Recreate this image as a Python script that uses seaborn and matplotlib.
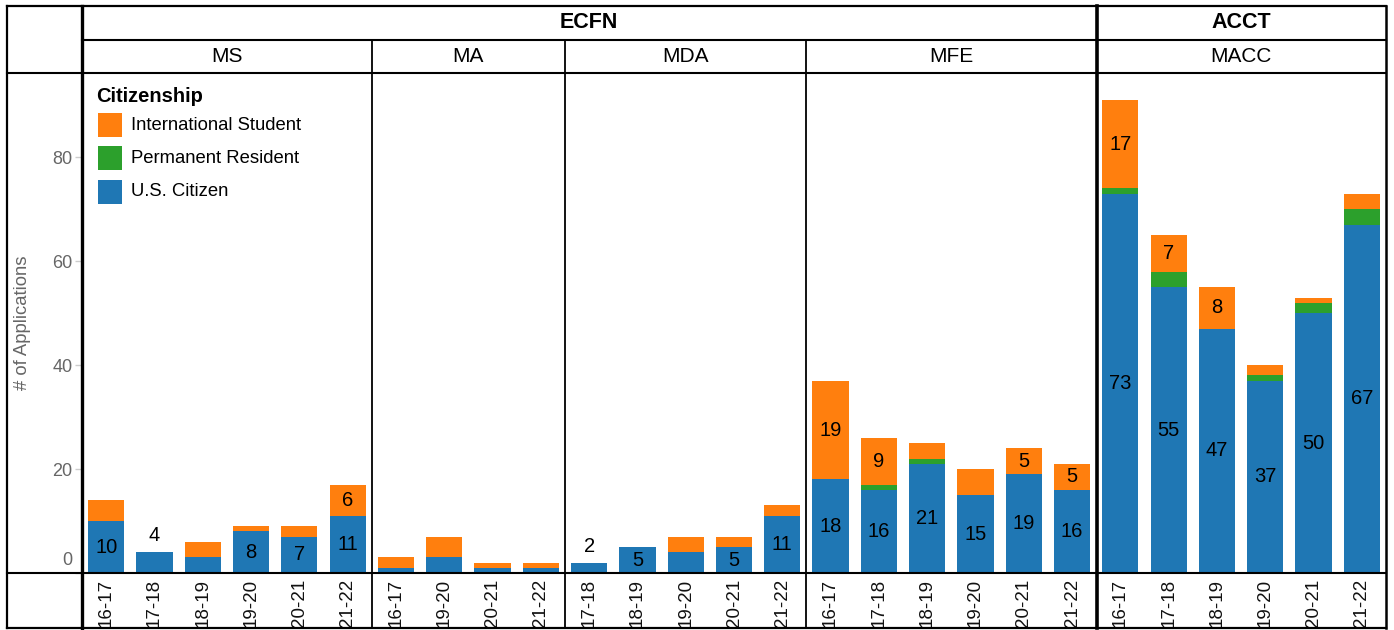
import matplotlib
matplotlib.use('Agg')
import matplotlib.pyplot as plt
import seaborn as sns
import pandas as pd
import numpy as np
from matplotlib.lines import Line2D
from matplotlib.patches import Rectangle
import matplotlib.transforms as mtransforms

# ---------------- data ----------------
departments = ['ECFN', 'ECFN', 'ECFN', 'ECFN', 'ACCT']
programs = ['MS', 'MA', 'MDA', 'MFE', 'MACC']
years = {
    'MS':   ['16-17', '17-18', '18-19', '19-20', '20-21', '21-22'],
    'MA':   ['16-17', '19-20', '20-21', '21-22'],
    'MDA':  ['17-18', '18-19', '19-20', '20-21', '21-22'],
    'MFE':  ['16-17', '17-18', '18-19', '19-20', '20-21', '21-22'],
    'MACC': ['16-17', '17-18', '18-19', '19-20', '20-21', '21-22'],
}
us_citizen = {
    'MS':   [10, 4, 3, 8, 7, 11],
    'MA':   [1, 3, 1, 1],
    'MDA':  [2, 5, 4, 5, 11],
    'MFE':  [18, 16, 21, 15, 19, 16],
    'MACC': [73, 55, 47, 37, 50, 67],
}
permanent_resident = {
    'MS':   [0, 0, 0, 0, 0, 0],
    'MA':   [0, 0, 0, 0],
    'MDA':  [0, 0, 0, 0, 0],
    'MFE':  [0, 1, 1, 0, 0, 0],
    'MACC': [1, 3, 0, 1, 2, 3],
}
international = {
    'MS':   [4, 0, 3, 1, 2, 6],
    'MA':   [2, 4, 1, 1],
    'MDA':  [0, 0, 3, 2, 2],
    'MFE':  [19, 9, 3, 5, 5, 5],
    'MACC': [17, 7, 8, 2, 1, 3],
}
# which segment values carry a text mark (indices into years)
us_labels_shown = {'MS': [0, 1, 3, 4, 5], 'MA': [], 'MDA': [0, 1, 3, 4],
                   'MFE': [0, 1, 2, 3, 4, 5], 'MACC': [0, 1, 2, 3, 4, 5]}
intl_labels_shown = {'MS': [5], 'MA': [], 'MDA': [],
                     'MFE': [0, 1, 4, 5], 'MACC': [0, 1, 2]}
legend_title = 'Citizenship'
series_names = ['International Student', 'Permanent Resident', 'U.S. Citizen']
y_ticks = [0, 20, 40, 60, 80]
y_title = '# of Applications'

colors = {'International Student': '#ff7f0e', 'Permanent Resident': '#2ca02c',
          'U.S. Citizen': '#1f77b4'}

# ---------------- style ----------------
sns.set_style('white')
plt.rcParams['font.family'] = ['Liberation Sans', 'DejaVu Sans']

W, H = 1394, 630
fig = plt.figure(figsize=(W / 100, H / 100), dpi=100)

def fx(px):
    return px / W

def fy(py):
    return 1 - py / H

LBL = 14.5
left_px, right_px, top_px, bot_px = 82, 1386, 73, 573
gs = fig.add_gridspec(1, len(programs), left=fx(left_px), right=fx(right_px),
                      top=fy(top_px), bottom=fy(bot_px), wspace=0,
                      width_ratios=[len(years[p]) for p in programs])
axes = [fig.add_subplot(gs[0, i]) for i in range(len(programs))]

YMAX = 96.2
for i, (ax, prog) in enumerate(zip(axes, programs)):
    df = pd.DataFrame({
        'Year': years[prog],
        'us': us_citizen[prog],
        'pr': permanent_resident[prog],
        'intl': international[prog],
    })
    df['us_pr'] = df['us'] + df['pr']
    df['total'] = df['us_pr'] + df['intl']
    order = years[prog]
    for col, name in [('total', 'International Student'),
                      ('us_pr', 'Permanent Resident'),
                      ('us', 'U.S. Citizen')]:
        sns.barplot(data=df, x='Year', y=col, order=order, color=colors[name],
                    saturation=1, width=0.75, errorbar=None, linewidth=0,
                    ax=ax)
    ax.set_xlim(-0.5, len(order) - 0.5)
    ax.set_ylim(0, YMAX)
    ax.set_xlabel('')
    ax.set_ylabel('')
    for s in ax.spines.values():
        s.set_visible(False)
    # bar labels
    for j in range(len(order)):
        us, pr, it = df.loc[j, 'us'], df.loc[j, 'pr'], df.loc[j, 'intl']
        if j in us_labels_shown[prog]:
            if pr + it == 0 and us < 4.5:
                ax.annotate(str(us), (j, us), xytext=(0, 5),
                            textcoords='offset points', ha='center',
                            va='bottom', fontsize=LBL, color='black')
            else:
                ax.text(j, us / 2, str(us), ha='center', va='center',
                        fontsize=LBL, color='black')
        if j in intl_labels_shown[prog]:
            ax.text(j, us + pr + it / 2, str(it), ha='center', va='center',
                    fontsize=LBL, color='black')
    # x ticks
    ax.set_xticks(range(len(order)))
    ax.set_xticklabels(order, rotation=90, fontsize=13.5, color='#111')
    ax.tick_params(axis='x', which='major', length=0, pad=4)
    ax.set_xticks(np.arange(0.5, len(order) - 1, 1), minor=True)
    ax.tick_params(axis='x', which='minor', length=6, width=1.5,
                   color='#dddddd', direction='out')
    for lab in ax.get_xticklabels():
        lab.set_va('top')
    if i == 0:
        ax.set_yticks(y_ticks)
        ax.set_yticklabels([str(t) for t in y_ticks], fontsize=13,
                           color='#666666')
        ax.tick_params(axis='y', length=5, width=1, color='#cccccc', pad=2,
                       left=True)
        ylabs = ax.get_yticklabels()
        ylabs[0].set_va('bottom')
        ylabs[0].set_transform(ylabs[0].get_transform() +
                               mtransforms.ScaledTranslation(0, 3 / 72,
                                                             fig.dpi_scale_trans))
    else:
        ax.set_yticks([])

fig.text(fx(23), fy((top_px + bot_px) / 2), y_title, rotation=90,
         ha='center', va='center', fontsize=13.3, color='#666666')

# ---------------- grid lines / headers ----------------
def hline(y, x0, x1, lw):
    fig.add_artist(Line2D([fx(x0), fx(x1)], [fy(y), fy(y)], color='black',
                          lw=lw, transform=fig.transFigure,
                          solid_capstyle='projecting'))

def vline(x, y0, y1, lw, color='black'):
    fig.add_artist(Line2D([fx(x), fx(x)], [fy(y0), fy(y1)], color=color,
                          lw=lw, transform=fig.transFigure,
                          solid_capstyle='projecting'))

outer_l, outer_r, outer_t, outer_b = 7, 1386, 6, 628
hdr_mid = 40
hline(outer_t, outer_l, outer_r, 1.6)
hline(outer_b, outer_l, outer_r, 1.6)
hline(top_px, outer_l, outer_r, 1.5)
hline(bot_px, outer_l, outer_r, 1.5)
hline(hdr_mid, left_px, outer_r, 1.5)
vline(outer_l, outer_t, outer_b, 1.6)
vline(outer_r, outer_t, outer_b, 1.8)
vline(left_px - 0.5, outer_t, outer_b, 2.4)

# panel edges in pixels from the axes positions
edges = []
for ax in axes:
    pos = ax.get_position()
    edges.append((pos.x0 * W, pos.x1 * W))

dept_groups = []
for i, d in enumerate(departments):
    if dept_groups and dept_groups[-1][0] == d:
        dept_groups[-1][2] = edges[i][1]
    else:
        dept_groups.append([d, edges[i][0], edges[i][1]])

for i in range(1, len(programs)):
    x = edges[i][0]
    if departments[i] != departments[i - 1]:
        vline(x + 1, outer_t, outer_b, 2.6)
    else:
        vline(x, hdr_mid, outer_b, 1.3)

for d, x0, x1 in dept_groups:
    fig.text(fx((x0 + x1) / 2), fy((outer_t + hdr_mid) / 2), d,
             ha='center', va='center', fontsize=15.5, fontweight='bold',
             color='black')
for i, p in enumerate(programs):
    fig.text(fx((edges[i][0] + edges[i][1]) / 2), fy((hdr_mid + top_px) / 2),
             p, ha='center', va='center', fontsize=15, color='black')

# ---------------- legend ----------------
fig.text(fx(96), fy(97), legend_title, ha='left', va='center', fontsize=14.5,
         fontweight='bold', color='black')
for k, name in enumerate(series_names):
    cy = 125 + k * 33.5
    fig.add_artist(Rectangle((fx(98), fy(cy + 12)), 24 / W, 24 / H,
                             transform=fig.transFigure,
                             facecolor=colors[name], edgecolor='none'))
    fig.text(fx(131), fy(cy), name, ha='left', va='center', fontsize=13.3,
             color='black')

fig.savefig('out.png', dpi=100)
